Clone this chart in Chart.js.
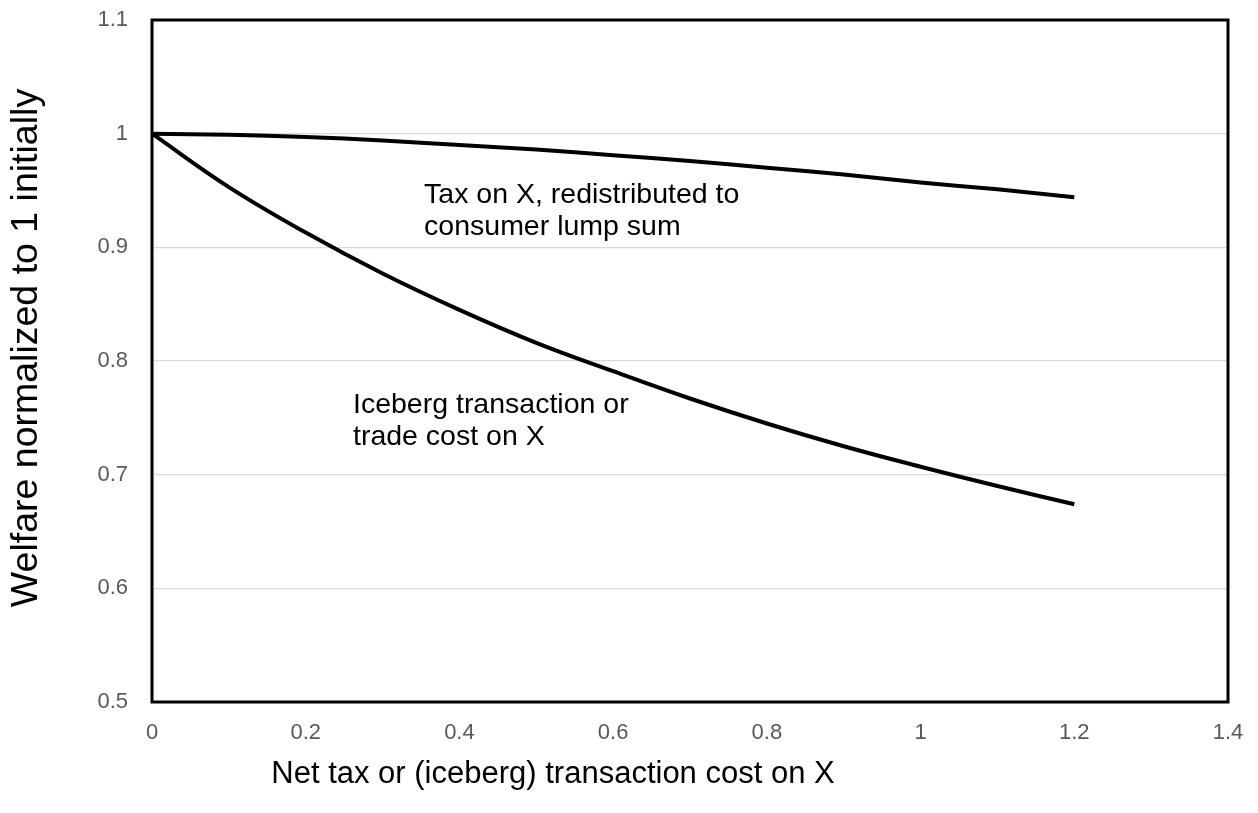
<!DOCTYPE html>
<html>
<head>
<meta charset="utf-8">
<style>
    html, body { margin: 0; padding: 0; background: #ffffff; }
    #wrap { width: 1258px; height: 813px; }
</style>
<script src="https://cdn.jsdelivr.net/npm/chart.js@4/dist/chart.umd.min.js"></script>
</head>
<body>
<div id="wrap"><canvas id="welfareChart" width="1258" height="813"></canvas></div>
<script>
// Values
const costLevels = [0, 0.1, 0.2, 0.3, 0.4, 0.5, 0.6, 0.7, 0.8, 0.9, 1.0, 1.1, 1.2];
const taxWelfare = [1.0, 0.999, 0.997, 0.994, 0.990, 0.986, 0.981, 0.976, 0.970, 0.964, 0.957, 0.951, 0.944];
const icebergWelfare = [1.0, 0.953, 0.913, 0.877, 0.845, 0.816, 0.791, 0.767, 0.745, 0.725, 0.707, 0.690, 0.674];

const xTicks = [0, 0.2, 0.4, 0.6, 0.8, 1, 1.2, 1.4];
const yTicks = [0.5, 0.6, 0.7, 0.8, 0.9, 1, 1.1];

const xTitle = 'Net tax or (iceberg) transaction cost on X';
const yTitle = 'Welfare normalized to 1 initially';
const taxNote = ['Tax on X, redistributed to', 'consumer lump sum'];
const icebergNote = ['Iceberg transaction or', 'trade cost on X'];

const FONT = '"Liberation Sans", Arial, sans-serif';

function toPoints(xs, ys) {
    return xs.map((x, i) => ({ x: x, y: ys[i] }));
}

// Frame, axis titles and curve labels
const decorations = {
    id: 'decorations',
    afterDraw(chart) {
        const ctx = chart.ctx;
        const a = chart.chartArea;
        const xs = chart.scales.x;
        const ys = chart.scales.y;

        ctx.save();
        ctx.strokeStyle = '#000000';
        ctx.lineWidth = 3;
        ctx.strokeRect(a.left, a.top, a.right - a.left, a.bottom - a.top);

        ctx.fillStyle = '#000000';
        ctx.font = '28.5px ' + FONT;
        ctx.textAlign = 'left';
        ctx.textBaseline = 'middle';

        // Curve labels
        const tx = xs.getPixelForValue(0.354), ty = ys.getPixelForValue(0.9455);
        ctx.fillText(taxNote[0], tx, ty);
        ctx.fillText(taxNote[1], tx, ty + 32);
        const ix = xs.getPixelForValue(0.2615), iy = ys.getPixelForValue(0.7613);
        ctx.fillText(icebergNote[0], ix, iy);
        ctx.fillText(icebergNote[1], ix, iy + 32);

        // Axis titles
        ctx.textAlign = 'center';
        ctx.font = '31px ' + FONT;
        ctx.fillText(xTitle, 553, 774);
        ctx.font = '37.5px ' + FONT;
        ctx.translate(27, 348);
        ctx.rotate(-Math.PI / 2);
        ctx.fillText(yTitle, 0, 0);
        ctx.restore();
    }
};

const ctx = document.getElementById('welfareChart').getContext('2d');
window.welfareChart = new Chart(ctx, {
    type: 'line',
    data: {
        datasets: [{
            label: 'Tax on X',
            data: toPoints(costLevels, taxWelfare),
            borderColor: '#000000',
            borderWidth: 4,
            pointRadius: 0,
            tension: 0.4,
            fill: false
        }, {
            label: 'Iceberg cost on X',
            data: toPoints(costLevels, icebergWelfare),
            borderColor: '#000000',
            borderWidth: 4,
            pointRadius: 0,
            tension: 0.4,
            fill: false
        }]
    },
    options: {
        responsive: false,
        devicePixelRatio: 1,
        animation: false,
        layout: {
            padding: { left: 0, top: 20, right: 30, bottom: 0 }
        },
        plugins: {
            legend: { display: false },
            tooltip: { enabled: false }
        },
        scales: {
            x: {
                type: 'linear',
                min: 0,
                max: 1.4,
                afterFit: s => { s.height = 111; s.paddingLeft = 0; s.paddingRight = 0; },
                afterBuildTicks: s => { s.ticks = xTicks.map(v => ({ value: v })); },
                grid: { display: false, drawTicks: false },
                border: { display: false },
                ticks: {
                    padding: 18,
                    maxRotation: 0,
                    color: '#595959',
                    font: { family: FONT, size: 22 },
                    callback: v => String(v)
                }
            },
            y: {
                min: 0.5,
                max: 1.1,
                afterFit: s => { s.width = 152; s.paddingTop = 0; s.paddingBottom = 0; },
                afterBuildTicks: s => { s.ticks = yTicks.map(v => ({ value: v })); },
                grid: { color: '#d9d9d9', lineWidth: 1.2, drawTicks: false },
                border: { display: false },
                ticks: {
                    padding: 24,
                    color: '#595959',
                    font: { family: FONT, size: 22 },
                    callback: v => String(v)
                }
            }
        }
    },
    plugins: [decorations]
});
</script>
</body>
</html>
